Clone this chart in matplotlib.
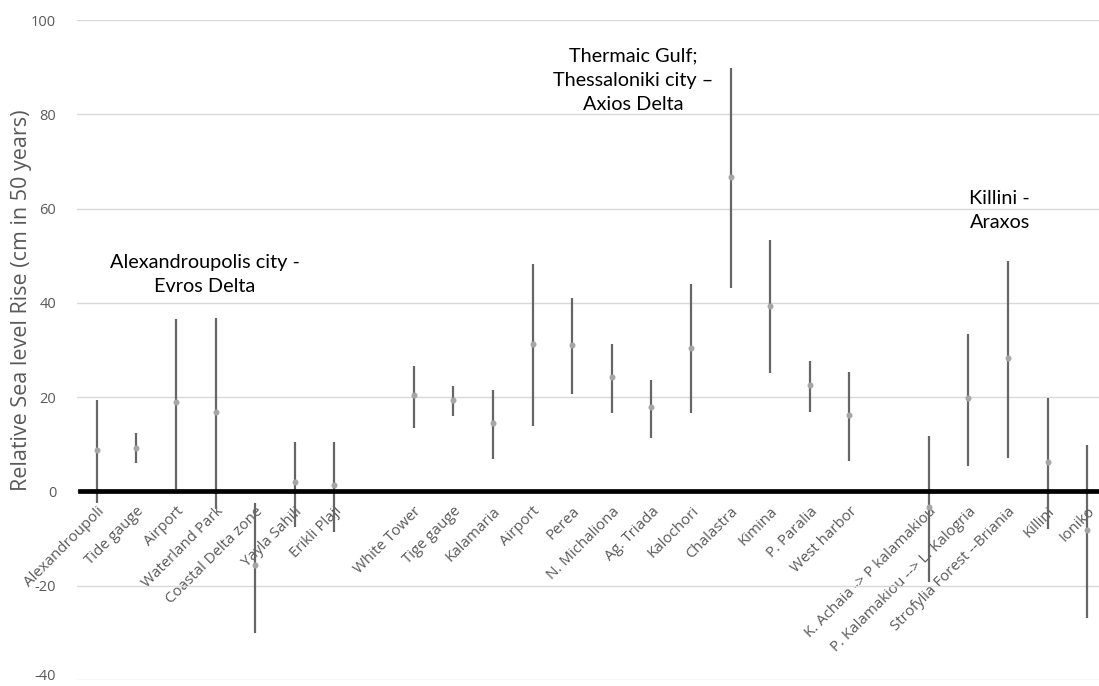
import numpy as np
import matplotlib
matplotlib.use("Agg")
import matplotlib.pyplot as plt

# stations, in plot order ('' = gap between the three areas)
labels = ['Alexandroupoli', 'Tide gauge', 'Airport', 'Waterland Park', 'Coastal Delta zone',
          'Yayla Sahili', 'Erikli Plaji', '',
          'White Tower', 'Tige gauge', 'Kalamaria', 'Airport', 'Perea', 'N. Michaliona',
          'Ag. Triada', 'Kalochori', 'Chalastra', 'Kimina', 'P. Paralia', 'West harbor', '',
          'K. Achaia -> P kalamakiou', 'P. Kalamakiou --> L. Kalogria',
          'Strofylia Forest --Briania', 'Killini', 'Ioniko']

nan = np.nan
# relative sea level rise (cm in 50 years): central value, lower and upper bound
mid = [8.7, 9.3, 18.9, 16.8, -15.6, 2.0, 1.3, nan,
       20.5, 19.4, 14.5, 31.3, 31.1, 24.2, 18.0, 30.5, 66.8, 39.4, 22.5, 16.2, nan,
       -3.2, 19.8, 28.4, 6.2, -8.2]
lower = [-2.4, 6.0, 0.5, -3.8, -30.0, -7.6, -8.5, nan,
         13.4, 16.0, 6.8, 13.8, 20.6, 16.6, 11.4, 16.6, 43.2, 25.2, 16.8, 6.5, nan,
         -19.2, 5.5, 7.0, -8.0, -26.9]
upper = [19.3, 12.5, 36.6, 36.8, -2.4, 10.5, 10.5, nan,
         26.7, 22.4, 21.5, 48.2, 41.1, 31.3, 23.6, 43.9, 89.9, 53.3, 27.6, 25.3, nan,
         11.8, 33.4, 48.9, 19.9, 9.9]

area_names = ['Alexandroupolis city -\nEvros Delta',
              'Thermaic Gulf;\nThessaloniki city \u2013\nAxios Delta',
              'Killini -\nAraxos']

grey = '#595959'
tickfont = 'Open Sans'
notefont = 'Lato'
plt.rcParams['axes.unicode_minus'] = False

x = np.arange(len(labels))
mid = np.array(mid)
yerr = [mid - np.array(lower), np.array(upper) - mid]

fig = plt.figure(figsize=(10.99, 6.86), dpi=100)
ax = fig.add_axes([77 / 1099, 6 / 686, 1022 / 1099, 660 / 686])

ax.errorbar(x, mid, yerr=yerr, fmt='o', color='#a6a6a6', markersize=3.3,
            ecolor='#666666', elinewidth=1.6, capsize=0, zorder=3)
ax.axhline(0, xmin=0.003, color='black', linewidth=3.4, zorder=4)

ax.set_xlim(-0.5, 25.3)
ax.set_ylim(-40, 100)
ax.set_yticks(np.arange(-40, 101, 20))
ax.grid(axis='y', color='#d9d9d9', linewidth=1)
ax.set_axisbelow(True)
for s in ['top', 'right', 'left']:
    ax.spines[s].set_visible(False)
ax.spines['bottom'].set_position(('data', 0))
ax.spines['bottom'].set_visible(False)

ax.set_xticks(x)
ax.set_xticklabels(labels, rotation=45, ha='right', rotation_mode='anchor',
                   fontsize=10.8, color=grey, family=tickfont)
ax.tick_params(axis='x', length=0, pad=9)
ax.tick_params(axis='y', length=0, pad=15, labelsize=10.5, labelcolor=grey)
ylabs = ax.get_yticklabels()
for t in ylabs:
    t.set_family(tickfont)
    t.set_verticalalignment('center_baseline')
# bottom label would be cut by the figure edge
ylabs[0].set_verticalalignment('baseline')

fig.text(22 / 1099, 1 - 300 / 686, 'Relative Sea level Rise (cm in 50 years)',
         rotation=90, ha='center', va='center', fontsize=15.5, color=grey, family=tickfont)

# area names
ax.text(2.73, 46.0, area_names[0], ha='center', va='center', fontsize=14.3,
        family=notefont, linespacing=1.5)
ax.text(13.54, 87.2, area_names[1], ha='center', va='center', fontsize=14.3,
        family=notefont, linespacing=1.5)
ax.text(22.03, 59.6, area_names[2], ha='left', va='center', fontsize=14.3,
        family=notefont, linespacing=1.5, multialignment='left')

plt.savefig('out.png', dpi=100)
